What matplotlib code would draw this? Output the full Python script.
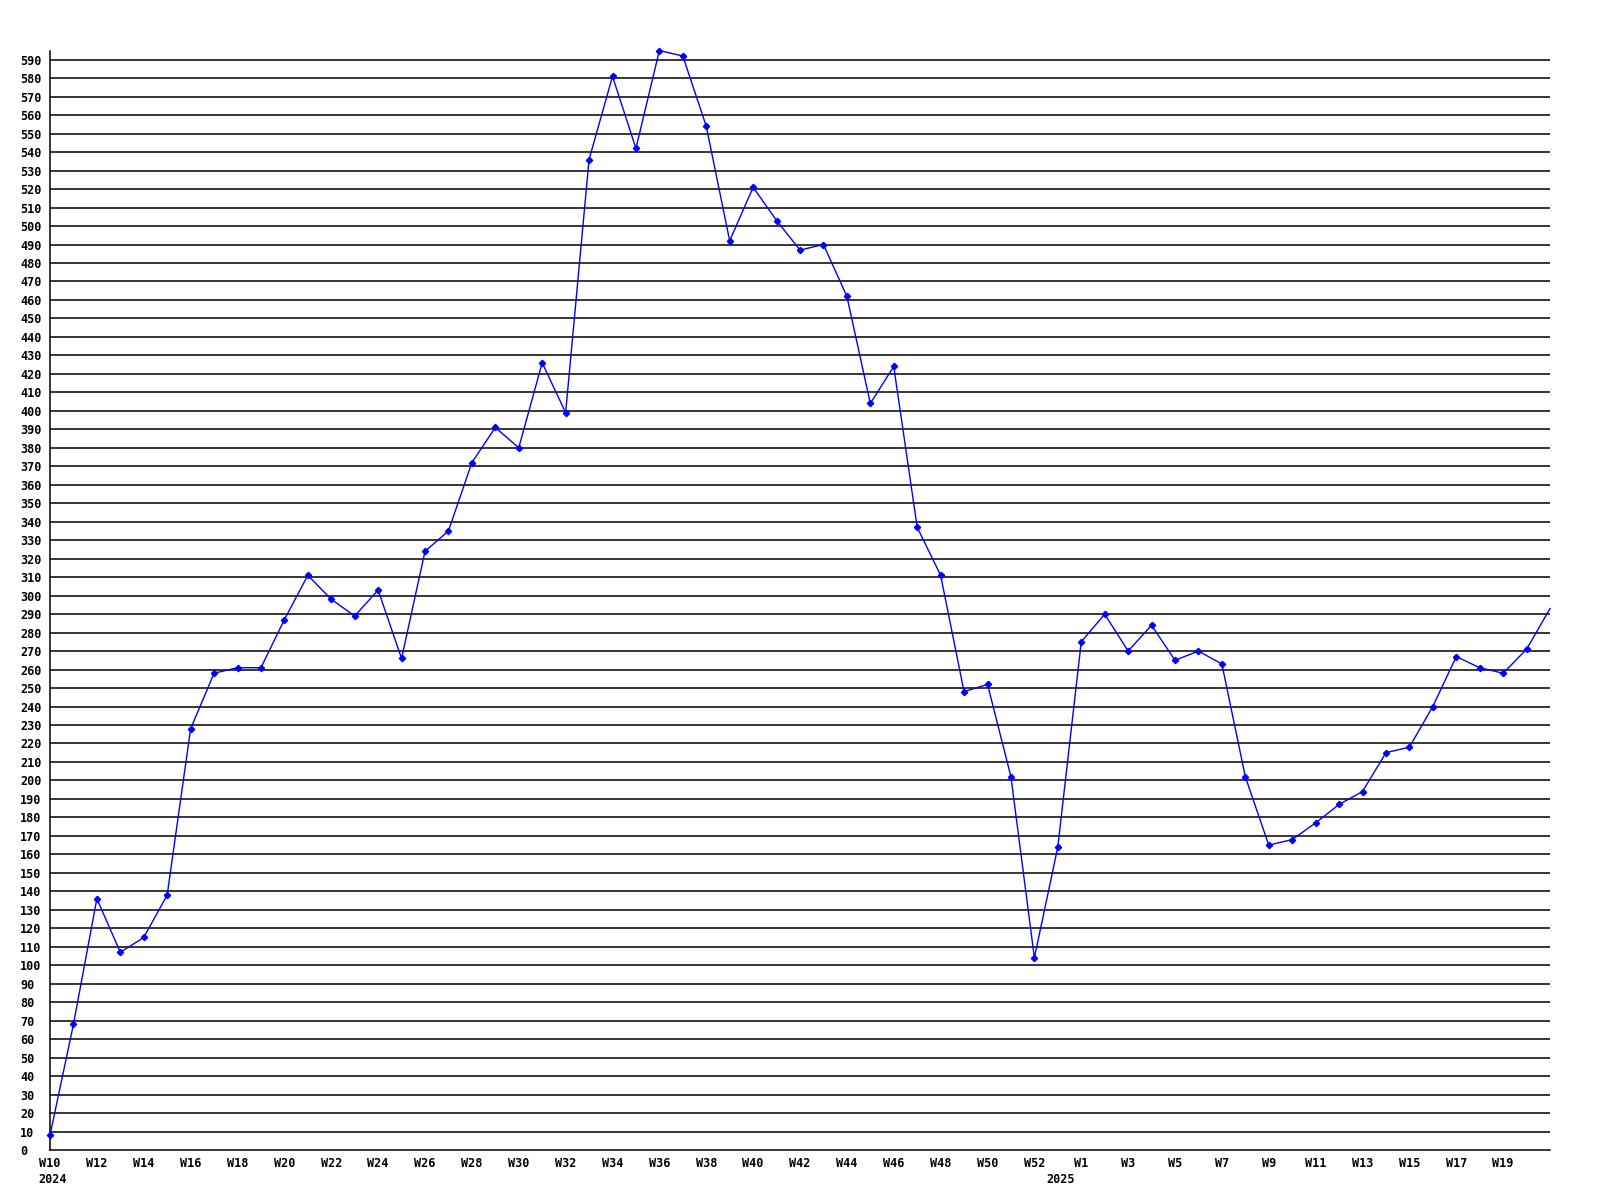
import matplotlib.pyplot as plt
import numpy as np

# weekly values, W10 2024 .. W21 2025
weeks_2024 = ['W%d' % w for w in range(10, 54)]
values_2024 = [8, 68, 136, 107, 115, 138, 228, 258, 261, 261, 287, 311, 298, 289,
               303, 266, 324, 335, 372, 391, 380, 426, 399, 536, 581, 542, 595, 592,
               554, 492, 521, 503, 487, 490, 462, 404, 424, 337, 311, 248, 252, 202,
               104, 164]
weeks_2025 = ['W%d' % w for w in range(1, 22)]
values_2025 = [275, 290, 270, 284, 265, 270, 263, 202, 165, 168, 177, 187, 194, 215,
               218, 240, 267, 261, 258, 271, 293]

weeks = weeks_2024 + weeks_2025
values = values_2024 + values_2025
x = np.arange(len(values))

plt.rcParams['font.family'] = 'DejaVu Sans Mono'
plt.rcParams['font.weight'] = 'bold'
plt.rcParams['font.size'] = 8.5

fig = plt.figure(figsize=(16, 12), dpi=100)
ax = fig.add_axes([50 / 1600, 50 / 1200, 1500 / 1600, 1099.5 / 1200])

for v in range(10, 600, 10):
    ax.axhline(v, color='black', linewidth=1.1, zorder=1)

ax.plot(x, values, color='blue', linewidth=1.0, marker='D', markersize=3.2,
        markevery=list(range(len(values) - 1)), clip_on=False, zorder=3)

ax.set_xlim(0, len(values) - 1)
ax.set_ylim(0, 595)

ax.set_yticks(np.arange(0, 600, 10))
ax.set_yticklabels([str(v) for v in range(0, 600, 10)])
for lab in ax.get_yticklabels():
    lab.set_horizontalalignment('left')
ax.tick_params(axis='y', length=0, pad=21.6)

# labels every other week; the extra week between W52 and W1 is skipped
tick_pos = list(range(0, 43, 2)) + list(range(44, len(weeks) - 1, 2))
ax.set_xticks(tick_pos)
ax.set_xticklabels([weeks[i] for i in tick_pos])
ax.tick_params(axis='x', length=0, pad=5)

for i, yr in [(0, '2024'), (43, '2025')]:
    ax.annotate(yr, xy=(i, 0), xycoords=('data', 'axes fraction'),
                xytext=(2, -16.5), textcoords='offset points',
                ha='center', va='top', fontweight='bold')

ax.spines['top'].set_visible(False)
ax.spines['right'].set_visible(False)
ax.spines['left'].set_linewidth(1.1)
ax.spines['bottom'].set_linewidth(1.1)

fig.savefig('out.png', dpi=100)
